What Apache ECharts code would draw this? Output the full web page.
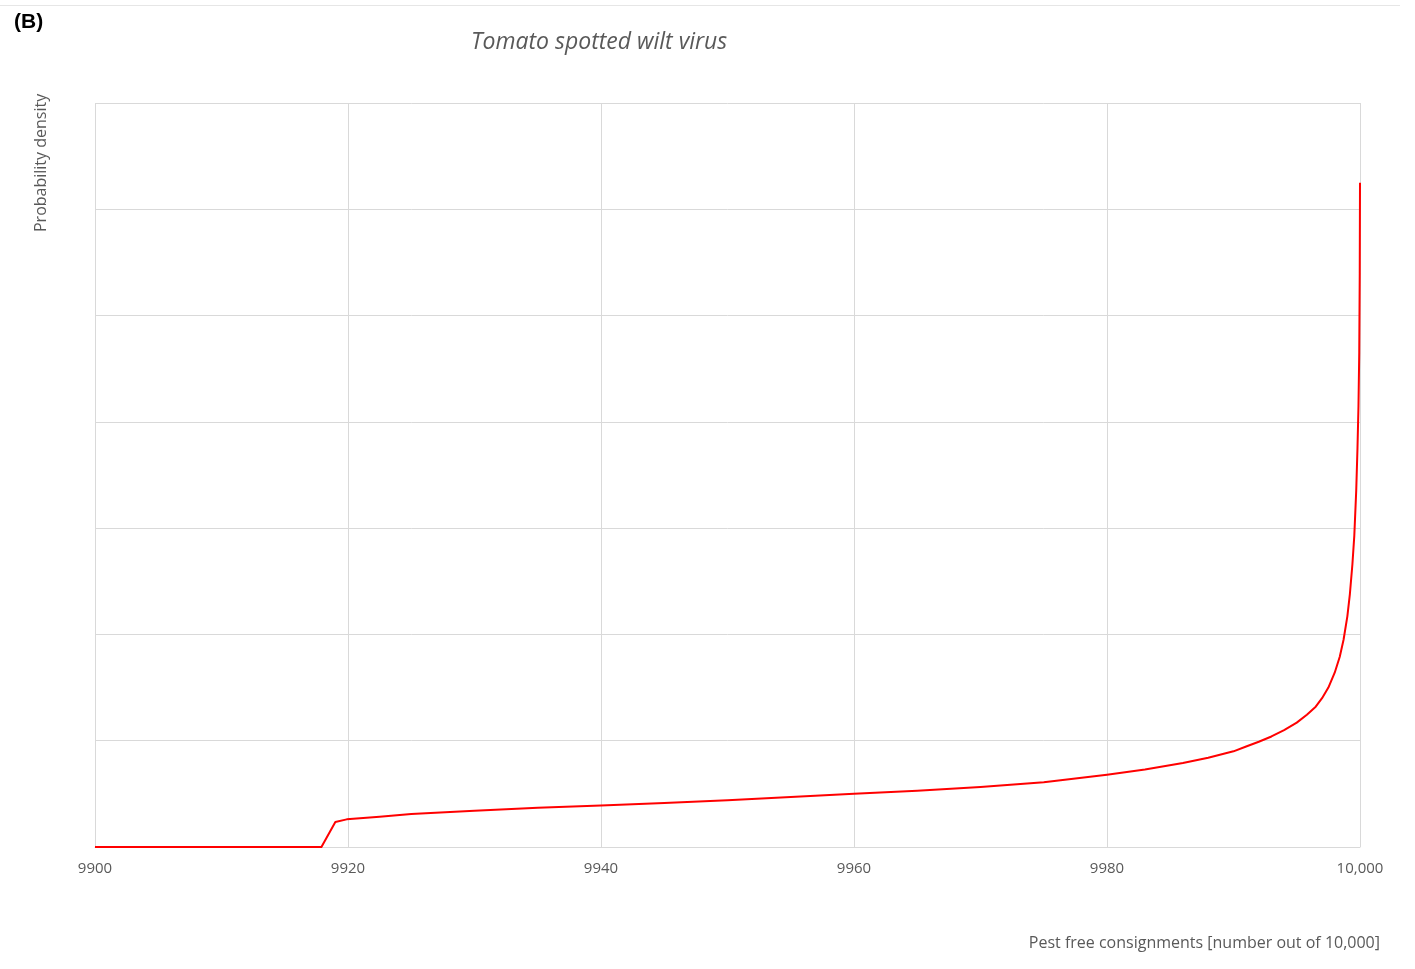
<!DOCTYPE html>
<html>
<head>
<meta charset="utf-8">
<script src="https://cdn.jsdelivr.net/npm/echarts@6/dist/echarts.min.js"></script>
<style>
html,body{margin:0;padding:0;background:#fff;}
#chart{width:1415px;height:969px;}
</style>
</head>
<body>
<div id="chart"></div>
<script>
const panelLabel = "(B)";
const chartTitle = "Tomato spotted wilt virus";
const yAxisName = "Probability density";
const xAxisName = "Pest free consignments [number out of 10,000]";
const xTicks = [9900, 9920, 9940, 9960, 9980, 10000];

const xValues = [9900, 9917.9, 9919, 9919.9, 9922.5, 9925, 9930, 9935, 9940, 9945, 9950, 9955, 9960, 9965, 9970, 9975, 9980, 9983, 9986, 9988, 9990, 9991, 9992, 9993, 9994, 9995, 9995.8, 9996.5, 9997, 9997.5, 9998, 9998.4, 9998.7, 9999, 9999.2, 9999.4, 9999.55, 9999.7, 9999.8, 9999.88, 9999.94, 9999.98, 10000];
const yValues = [0, 0, 0.235, 0.26, 0.285, 0.31, 0.34, 0.37, 0.39, 0.415, 0.44, 0.47, 0.50, 0.53, 0.565, 0.61, 0.68, 0.73, 0.79, 0.84, 0.90, 0.945, 0.99, 1.04, 1.10, 1.17, 1.245, 1.32, 1.40, 1.50, 1.64, 1.79, 1.95, 2.17, 2.38, 2.66, 2.93, 3.35, 3.75, 4.15, 4.65, 5.4, 6.25];

const seriesData = xValues.map((x, i) => [x, yValues[i]]);

const chart = echarts.init(document.getElementById('chart'));
chart.setOption({
  backgroundColor: '#ffffff',
  animation: false,
  title: {
    text: chartTitle,
    left: 466,
    top: 26,
    textStyle: { fontFamily: 'Open Sans', fontStyle: 'italic', fontWeight: 'normal', fontSize: 23, color: '#595959' }
  },
  grid: { left: 95, right: 55, top: 103, bottom: 122, containLabel: false },
  xAxis: {
    type: 'value',
    min: 9900,
    max: 10000,
    interval: 20,
    axisLine: { show: true, lineStyle: { color: '#d9d9d9', width: 1 } },
    axisTick: { show: false },
    splitLine: { show: true, lineStyle: { color: '#d9d9d9', width: 1 } },
    axisLabel: {
      margin: 14,
      fontFamily: 'Open Sans',
      fontSize: 15,
      color: '#595959',
      formatter: function (v) { return xTicks.indexOf(v) >= 0 ? (v >= 10000 ? v.toLocaleString('en-US') : String(v)) : ''; }
    }
  },
  yAxis: {
    type: 'value',
    min: 0,
    max: 7,
    interval: 1,
    axisLine: { show: false },
    axisTick: { show: false },
    axisLabel: { show: false },
    splitLine: { show: true, lineStyle: { color: '#d9d9d9', width: 1 } }
  },
  series: [{
    type: 'line',
    data: seriesData,
    showSymbol: false,
    smooth: false,
    lineStyle: { color: '#ff0000', width: 2, join: 'round' },
    itemStyle: { color: '#ff0000' }
  }],
  graphic: [
    { type: 'line', shape: { x1: 0, y1: 5.5, x2: 1400, y2: 5.5 }, style: { stroke: '#e6e6e6', lineWidth: 1 } },
    { type: 'text', left: 14, top: 12, style: { text: panelLabel, font: 'bold 21px "Liberation Sans", Arial, sans-serif', fill: '#000000' } },
    { type: 'text', x: 41, y: 232, rotation: Math.PI / 2, style: { text: yAxisName, font: '16px "Open Sans", sans-serif', fill: '#595959', textAlign: 'left', textVerticalAlign: 'middle' } },
    { type: 'text', x: 1380, y: 943, style: { text: xAxisName, font: '16px "Open Sans", sans-serif', fill: '#595959', textAlign: 'right', textVerticalAlign: 'middle' } }
  ]
});
</script>
</body>
</html>
